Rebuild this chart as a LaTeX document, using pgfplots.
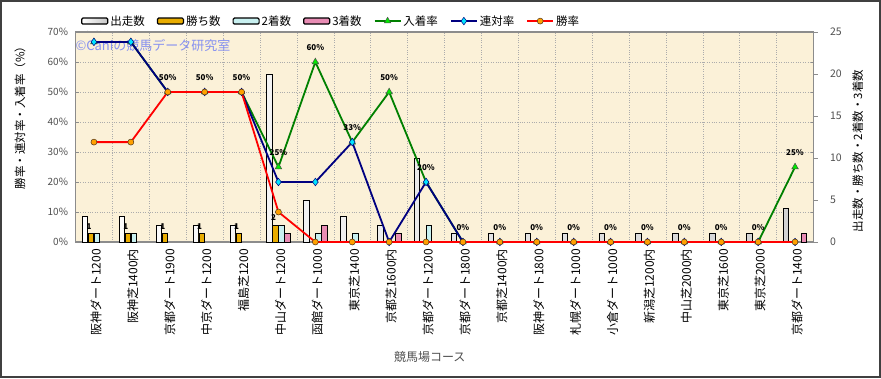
\documentclass[border=0pt]{standalone}
\usepackage{fontspec}
\setmainfont{Noto Sans CJK JP}
\usepackage{graphicx}
\usepackage{pgfplots}
\pgfplotsset{compat=1.18}
\pgfplotsset{/pgf/number format/assume math mode=true}

\definecolor{bgc}{RGB}{251,241,216}
\definecolor{gold}{RGB}{232,172,0}
\definecolor{cyanb}{RGB}{200,240,240}
\definecolor{pinkb}{RGB}{232,140,180}
\definecolor{gline}{RGB}{0,128,0}
\definecolor{gmark}{RGB}{0,235,0}
\definecolor{nline}{RGB}{0,0,128}
\definecolor{nmark}{RGB}{0,230,255}
\definecolor{rline}{RGB}{255,0,0}
\definecolor{omark}{RGB}{255,160,0}
\definecolor{axgray}{RGB}{140,140,140}
\definecolor{txtgray}{RGB}{80,80,80}
\definecolor{wm}{RGB}{135,145,240}

\begin{document}
\begin{tikzpicture}
\path[use as bounding box] (0pt,0pt) rectangle (881pt,378pt);
\fill[white] (0pt,0pt) rectangle (881pt,378pt);
\draw[line width=1.6pt, color=black!75] (0.8pt,0.8pt) rectangle (880.2pt,377.2pt);
\pgfplotsset{base/.style={at={(75.5pt,136pt)}, anchor=south west, scale only axis,
  width=738pt, height=210pt, xmin=-0.5, xmax=19.5, clip=false}}

% background, grid, left axis, category labels
\begin{axis}[base, ymin=0, ymax=70,
  axis background/.style={fill=bgc},
  axis line style={draw=axgray, line width=1.4pt},
  xtick={0,...,19},
  xticklabels={阪神ダート1200,阪神芝1400内,京都ダート1900,中京ダート1200,福島芝1200,中山ダート1200,函館ダート1000,東京芝1400,京都芝1600内,京都ダート1200,京都ダート1800,京都芝1400内,阪神ダート1800,札幌ダート1000,小倉ダート1000,新潟芝1200内,中山芝2000内,東京芝1600,東京芝2000,京都ダート1400},
  xtick style={draw=none},
  minor xtick={-0.5,0.5,...,19.5},
  minor tick length=0pt,
  xminorgrids=true, xmajorgrids=false, ymajorgrids=true,
  grid style={dotted, draw=gray!65, line width=0.6pt},
  ytick={0,10,...,70},
  yticklabel={\pgfmathprintnumber{\tick}\%},
  ytick style={draw=axgray},
  tick align=inside, major tick length=3pt,
  y tick label style={font=\fontsize{10}{12}\selectfont, text=txtgray, xshift=-4pt},
  x tick label style={yshift=-7pt, xshift=2pt, rotate=90, anchor=east, font=\fontsize{12}{14}\selectfont, inner sep=0pt},
  xlabel={競馬場コース},
  ylabel={勝率・連対率・入着率（\%）},
  every axis x label/.style={at={(axis description cs:0.48,-0.548)}, anchor=center, font=\fontsize{12}{14}\selectfont, text=txtgray},
  every axis y label/.style={at={(axis description cs:-0.0752,0.605)}, rotate=90, anchor=center, font=\fontsize{11.5}{13}\selectfont},
]
\addplot[draw=none] coordinates {(0,0)};
\end{axis}

% bars, right axis
\begin{axis}[base, ymin=0, ymax=25,
  axis x line=none, axis y line*=right,
  axis line style={draw=axgray, line width=1.4pt},
  ytick={0,5,...,25}, tick align=outside, major tick length=4pt,
  ytick style={draw=axgray},
  y tick label style={font=\fontsize{10.5}{12}\selectfont, text=txtgray, xshift=9pt},
  ylabel={出走数・勝ち数・2着数・3着数},
  every axis y label/.style={at={(axis description cs:1.060,0.433)}, rotate=90, anchor=center, font=\fontsize{11.5}{13}\selectfont},
  ybar=0.6pt, bar width=5.4pt,
]
\addplot[left color=white, right color=gray!35, draw=black, line width=0.6pt] coordinates {
 (0,3) (1,3) (2,2) (3,2) (4,2) (5,20) (6,5) (7,3) (8,2) (9,10)
 (10,1) (11,1) (12,1) (13,1) (14,1) (15,1) (16,1) (17,1) (18,1) (19,4)};
\addplot[fill=gold, draw=black, line width=0.6pt, nodes near coords,
  every node near coord/.append style={font=\bfseries\fontsize{8}{9}\selectfont, text=black, xshift=-2pt, yshift=3pt, inner sep=1pt}]
  coordinates {(0,1) (1,1) (2,1) (3,1) (4,1) (5,2)};
\addplot[fill=cyanb, draw=black, line width=0.6pt] coordinates {
 (0,1) (1,1) (5,2) (6,1) (7,1) (9,2)};
\addplot[fill=pinkb, draw=black, line width=0.6pt] coordinates {
 (5,1) (6,2) (8,1) (19,1)};
\end{axis}

\node[anchor=west, text=wm, font=\fontsize{13}{15}\selectfont] at (72pt,332pt) {©Caniの競馬データ研究室};

% rate lines
\begin{axis}[base, ymin=0, ymax=70, hide axis,
  legend columns=7,
  legend style={at={(0.006,1.052)}, anchor=west, draw=none, fill=white,
    font=\fontsize{11.5}{13}\selectfont, inner sep=1pt,
    /tikz/every even column/.append style={column sep=10pt}},
  legend image code/.code={\draw[mark repeat=2,mark phase=2,#1] plot coordinates {(0pt,0pt) (13pt,0pt) (26pt,0pt)};},
]
\addlegendimage{legend image code/.code={\draw[left color=white,right color=gray!45,draw=black,line width=1.2pt,rounded corners=1.2pt] (0pt,-3pt) rectangle (26pt,3pt);}}
\addlegendentry{出走数}
\addlegendimage{legend image code/.code={\draw[fill=gold,draw=black,line width=1.2pt,rounded corners=1.2pt] (0pt,-3pt) rectangle (26pt,3pt);}}
\addlegendentry{勝ち数}
\addlegendimage{legend image code/.code={\draw[fill=cyanb,draw=black,line width=1.2pt,rounded corners=1.2pt] (0pt,-3pt) rectangle (26pt,3pt);}}
\addlegendentry{2着数}
\addlegendimage{legend image code/.code={\draw[fill=pinkb,draw=black,line width=1.2pt,rounded corners=1.2pt] (0pt,-3pt) rectangle (26pt,3pt);}}
\addlegendentry{3着数}

\addplot[gline, line width=1.8pt, mark=triangle*, mark size=3.8pt,
  mark options={fill=gmark, draw=black!70, line width=0.5pt},
  nodes near coords={\pgfmathprintnumber[fixed,precision=0]{\pgfplotspointmeta}\%},
  every node near coord/.append style={anchor=south, yshift=10pt, inner sep=1pt, text=black, font=\bfseries\fontsize{8}{9}\selectfont}]
  coordinates {
 (0,66.7) (1,66.7) (2,50) (3,50) (4,50) (5,25) (6,60) (7,33.3) (8,50) (9,20)
 (10,0) (11,0) (12,0) (13,0) (14,0) (15,0) (16,0) (17,0) (18,0) (19,25)};
\addlegendentry{入着率}
\addplot[nline, line width=1.8pt, mark=diamond*, mark size=3.8pt,
  mark options={fill=nmark, draw=nline, line width=0.5pt}]
  coordinates {
 (0,66.7) (1,66.7) (2,50) (3,50) (4,50) (5,20) (6,20) (7,33.3) (8,0) (9,20)
 (10,0) (11,0) (12,0) (13,0) (14,0) (15,0) (16,0) (17,0) (18,0) (19,0)};
\addlegendentry{連対率}
\addplot[rline, line width=1.8pt, mark=*, mark size=3pt,
  mark options={fill=omark, draw=black!60!brown, line width=0.5pt}]
  coordinates {
 (0,33.3) (1,33.3) (2,50) (3,50) (4,50) (5,10) (6,0) (7,0) (8,0) (9,0)
 (10,0) (11,0) (12,0) (13,0) (14,0) (15,0) (16,0) (17,0) (18,0) (19,0)};
\addlegendentry{勝率}
\end{axis}
\end{tikzpicture}
\end{document}
